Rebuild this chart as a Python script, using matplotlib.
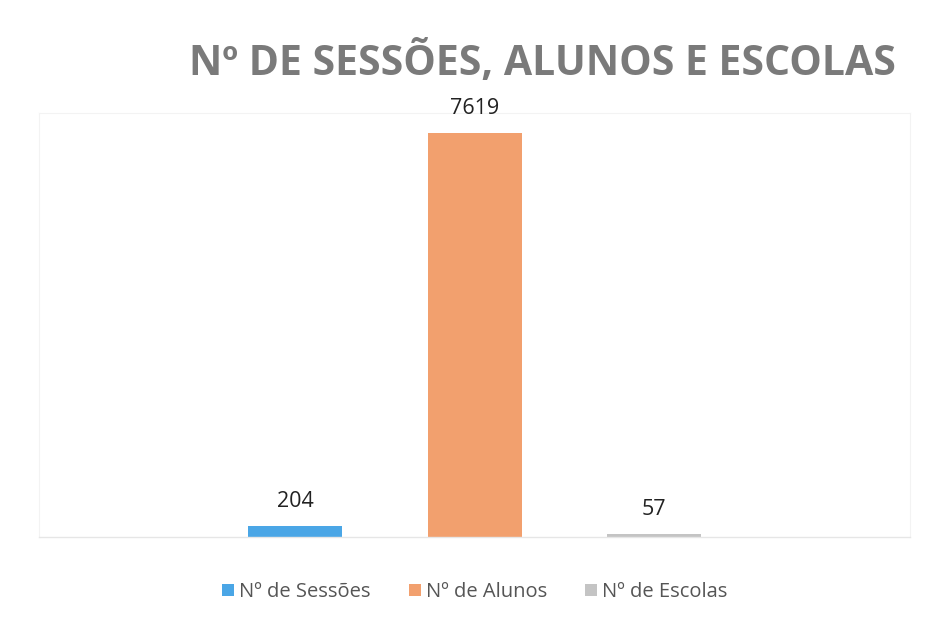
import matplotlib
matplotlib.use("Agg")
import matplotlib.pyplot as plt
from matplotlib.patches import Patch

series = ["Nº de Sessões", "Nº de Alunos", "Nº de Escolas"]
values = [204, 7619, 57]
colors = ["#4aa6e6", "#f2a06e", "#c4c4c4"]
title = "Nº DE SESSÕES, ALUNOS E ESCOLAS"

plt.rcParams['font.family'] = ['Open Sans', 'DejaVu Sans']

fig = plt.figure(figsize=(9.27, 6.22), dpi=100)
ax = fig.add_axes([0.042, 0.1367, 0.94, 0.6817])

pos = [-1, 0, 1]
bars = ax.bar(pos, values, width=0.525, color=colors, zorder=2)
for b, v in zip(bars, values):
    ax.annotate(str(v), (b.get_x() + b.get_width() / 2, b.get_height()),
                xytext=(0, 10), textcoords="offset points",
                ha="center", va="bottom", fontsize=15.5, color="#222222")

ax.set_xlim(-2.43, 2.43)
ax.set_ylim(0, 8000)
ax.set_xticks([])
ax.set_yticks([])
for s in ["top", "left", "right"]:
    ax.spines[s].set_color("#f3f3f3")
    ax.spines[s].set_linewidth(0.8)
ax.spines["bottom"].set_color("#e6e6e6")
ax.spines["bottom"].set_linewidth(1.0)

fig.text(0.585, 0.898, title, ha="center", va="center", fontsize=29.5,
         fontweight="bold", color="#7a7a7a")

handles = [Patch(facecolor=c, edgecolor="none") for c in colors]
fig.legend(handles, series, loc="center", bbox_to_anchor=(0.512, 0.048),
           ncol=3, frameon=False, fontsize=14.5, handlelength=0.6,
           handleheight=0.6, handletextpad=0.25, columnspacing=1.9,
           labelcolor="#555555")

fig.savefig("out.png", dpi=100, facecolor="white")
